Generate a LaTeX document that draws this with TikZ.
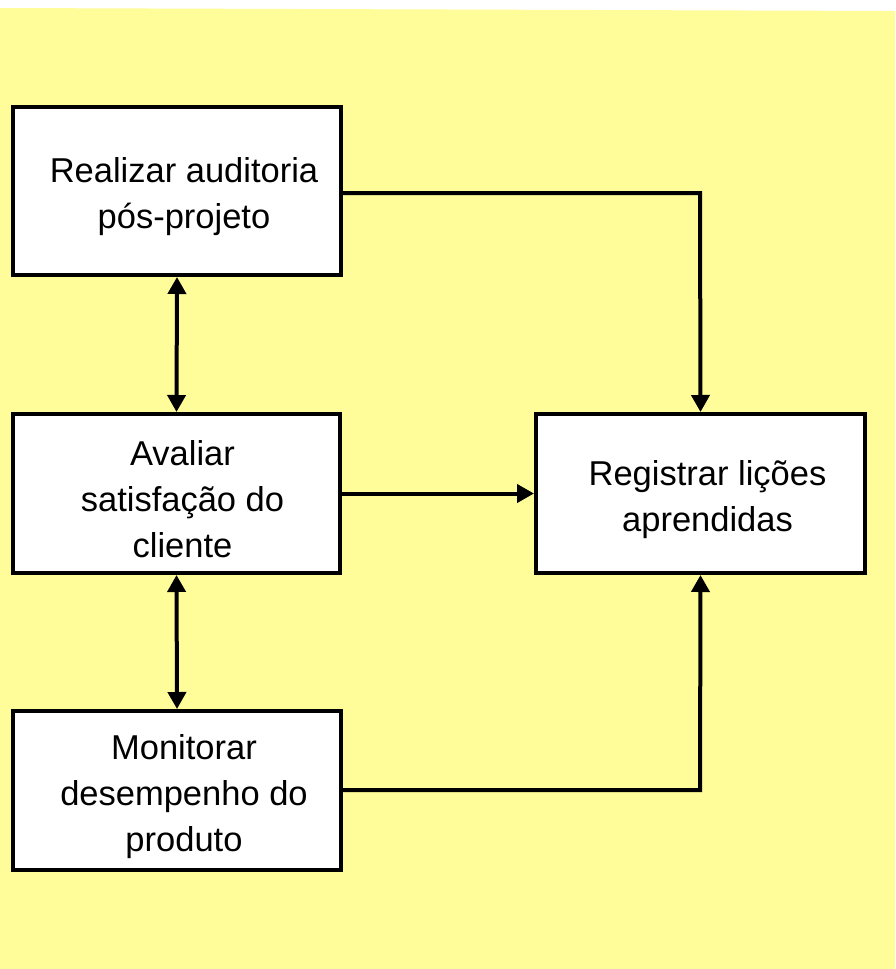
\documentclass[tikz,border=0pt]{standalone}
\usepackage{fontspec}
\setmainfont{Liberation Sans}
\usetikzlibrary{arrows.meta}
\definecolor{bgyellow}{HTML}{FFFD99}
\begin{document}
\begin{tikzpicture}[x=1pt,y=-1pt,
  box/.style={draw=black,line width=4pt,fill=white,inner sep=0pt},
  txt/.style={align=center,font=\fontsize{34.5}{46}\selectfont,inner sep=0pt},
  conn/.style={line width=4pt,-{Triangle[length=17pt,width=18pt]}},
  dconn/.style={line width=4pt,{Triangle[length=17pt,width=18pt]}-{Triangle[length=17pt,width=18pt]}}]
\useasboundingbox (0,0) rectangle (895,969);
\fill[white] (0,0) rectangle (895,969);
\fill[bgyellow] (0,8) -- (895,11) -- (895,969) -- (0,969) -- cycle;
\node[box,minimum width=328pt,minimum height=168pt] (b1) at (177,191) {};
\node[box,minimum width=327pt,minimum height=159pt] (b2) at (176.5,493.5) {};
\node[box,minimum width=329pt,minimum height=159pt] (b3) at (700.5,493.5) {};
\node[box,minimum width=328pt,minimum height=159pt] (b4) at (177,790.5) {};
\node[txt] (t1) at ([xshift=7pt,yshift=-6pt]b1.center) {Realizar auditoria\\pós-projeto};
\node[txt] (t2) at ([xshift=6pt,yshift=-6pt]b2.center) {Avaliar\\satisfação do\\cliente};
\node[txt] (t3) at ([xshift=7pt,yshift=-6pt]b3.center) {Registrar lições\\aprendidas};
\node[txt] (t4) at ([xshift=7pt,yshift=-6pt]b4.center) {Monitorar\\desempenho do\\produto};
\coordinate (c1) at (700,193);
\coordinate (c2) at (700,790);
\draw[dconn] (b1.south) -- (b2.north);
\draw[dconn] (b2.south) -- (b4.north);
\draw[conn] (b2.east) -- (b3.west);
\draw[conn,line join=miter] (b1.east |- c1) -- (c1) -- (b3.north);
\draw[conn,line join=miter] (b4.east |- c2) -- (c2) -- (b3.south);
\end{tikzpicture}
\end{document}
